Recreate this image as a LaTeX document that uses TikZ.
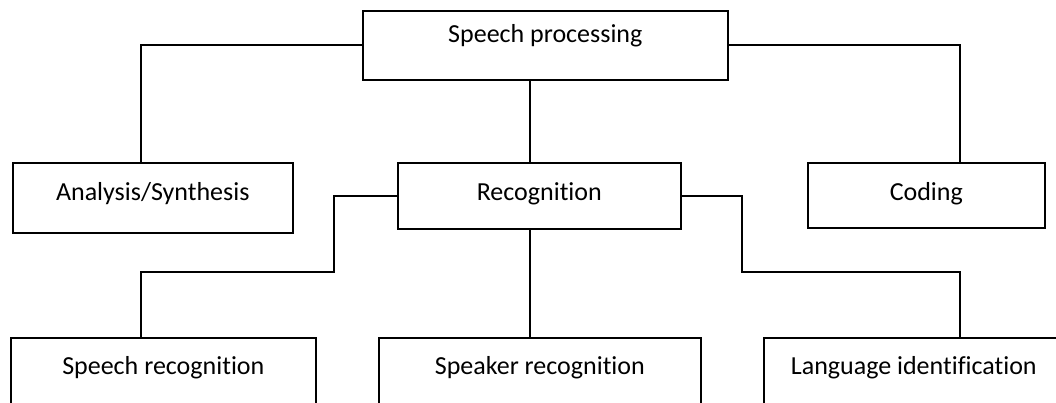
\documentclass[tikz,border=0pt]{standalone}
\usepackage{fontspec}
\setmainfont{Carlito}[Ligatures=NoCommon]
\usepackage{tikz}

\tikzset{
    blk/.style={draw, line width=1.2pt, inner sep=0pt,
        anchor=north west, font=\fontsize{19.5}{23}\selectfont},
    link/.style={draw, line width=1.2pt}
}

\begin{document}
\begin{tikzpicture}[x=0.75pt, y=-0.75pt]
        \clip (0,0) rectangle (1056,403);
        \fill[white] (0,0) rectangle (1056,403);

        % top level
        \node[blk, minimum width=273.75pt,
            text height=24pt, text depth=27.75pt]
            (proc) at (362,10) {Speech processing};

        % second level
        \node[blk, minimum width=210pt,
            text height=28.5pt, text depth=24pt]
            (ana) at (12,162) {Analysis/Synthesis};
        \node[blk, minimum width=212.25pt,
            text height=28.5pt, text depth=21pt]
            (rec) at (397,162) {Recognition};
        \node[blk, minimum width=177.75pt,
            text height=28.5pt, text depth=20.25pt]
            (cod) at (807,162) {Coding};

        % third level
        \node[blk, minimum width=228.75pt,
            text height=27.75pt, text depth=33.75pt]
            (sr) at (10,337) {Speech recognition};
        \node[blk, minimum width=241.5pt,
            text height=27.75pt, text depth=33.75pt]
            (spk) at (378,337) {Speaker recognition};
        \node[blk, minimum width=225pt,
            text height=27.75pt, text depth=33.75pt]
            (lang) at (763,337) {Language identification};

        \coordinate (lcol) at (141,0);
        \coordinate (rcol) at (960,0);
        \coordinate (mid) at (530,0);
        \coordinate (lknee) at (334,272);
        \coordinate (rknee) at (742,272);

        \path[link] (proc.west) -| (lcol |- ana.north);
        \path[link] (proc.east) -| (rcol |- cod.north);
        \path[link] (proc.south -| mid) -- (rec.north -| mid);

        \path[link] (rec.west) -| (lknee) -| (lcol |- sr.north);
        \path[link] (rec.east) -| (rknee) -| (rcol |- lang.north);
        \path[link] (rec.south -| mid) -- (spk.north -| mid);
    \end{tikzpicture}
\end{document}
